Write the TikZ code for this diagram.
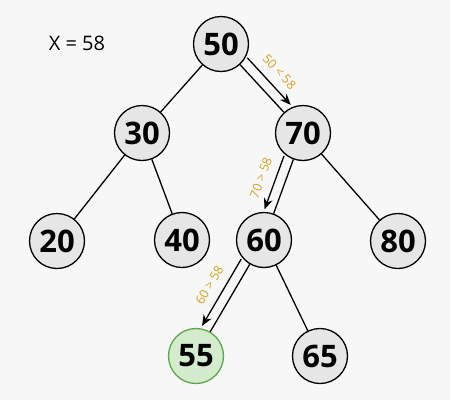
\documentclass[tikz,border=0pt]{standalone}
\usepackage{fontspec}
\setmainfont{Open Sans}
\usetikzlibrary{calc,arrows.meta}
\definecolor{bg}{HTML}{F7F7F7}
\definecolor{nodefill}{HTML}{E6E6E6}
\definecolor{greenfill}{HTML}{D4EBCE}
\definecolor{greenline}{HTML}{5BA84B}
\definecolor{labcol}{HTML}{D6A11E}
\begin{document}
\begin{tikzpicture}[x=1pt,y=-1pt,
  tn/.style={circle,draw=black,line width=1.3pt,fill=nodefill,minimum size=55pt,inner sep=0pt,font=\bfseries\fontsize{31}{31}\selectfont},
  found/.style={tn,draw=greenline,fill=greenfill},
  edge/.style={line width=1.3pt,black},
  arr/.style={line width=1.3pt,black,-{Stealth[length=11pt,width=9pt]}},
  lab/.style={text=labcol,font=\fontsize{12.5}{12.5}\selectfont,inner sep=1pt}]
\fill[bg] (0,0) rectangle (450,400);
\useasboundingbox (0,0) rectangle (450,400);
\node[font=\fontsize{20}{20}\selectfont] (x) at (77,43) {X = 58};
\node[tn] (n50) at (221,44) {50};
\node[tn] (n30) at (142,133) {30};
\node[tn] (n70) at (303,133) {70};
\node[tn] (n20) at (57,241) {20};
\node[tn] (n40) at (182,240) {40};
\node[tn] (n60) at (264,240) {60};
\node[tn] (n80) at (398,241) {80};
\node[found] (n55) at (196,356) {55};
\node[tn] (n65) at (320,356) {65};
\draw[edge] (n50) -- (n30);
\draw[edge] (n50) -- (n70);
\draw[edge] (n30) -- (n20);
\draw[edge] (n30) -- (n40);
\draw[edge] (n70) -- (n60);
\draw[edge] (n70) -- (n80);
\draw[edge] (n60) -- (n55);
\draw[edge] (n60) -- (n65);
\draw[arr] ($(n50)!28pt!(n70)!10pt!90:(n70)$) -- node[lab,midway,sloped,above=8pt] {50 < 58} ($(n70)!29pt!(n50)!10pt!-90:(n50)$);
\draw[arr] ($(n70)!28pt!(n60)!10pt!-90:(n60)$) -- node[lab,midway,sloped,above=8pt] {70 > 58} ($(n60)!29pt!(n70)!10pt!90:(n70)$);
\draw[arr] ($(n60)!28pt!(n55)!10pt!-90:(n55)$) -- node[lab,midway,sloped,above=8pt] {60 > 58} ($(n55)!29pt!(n60)!10pt!90:(n60)$);
\end{tikzpicture}
\end{document}
